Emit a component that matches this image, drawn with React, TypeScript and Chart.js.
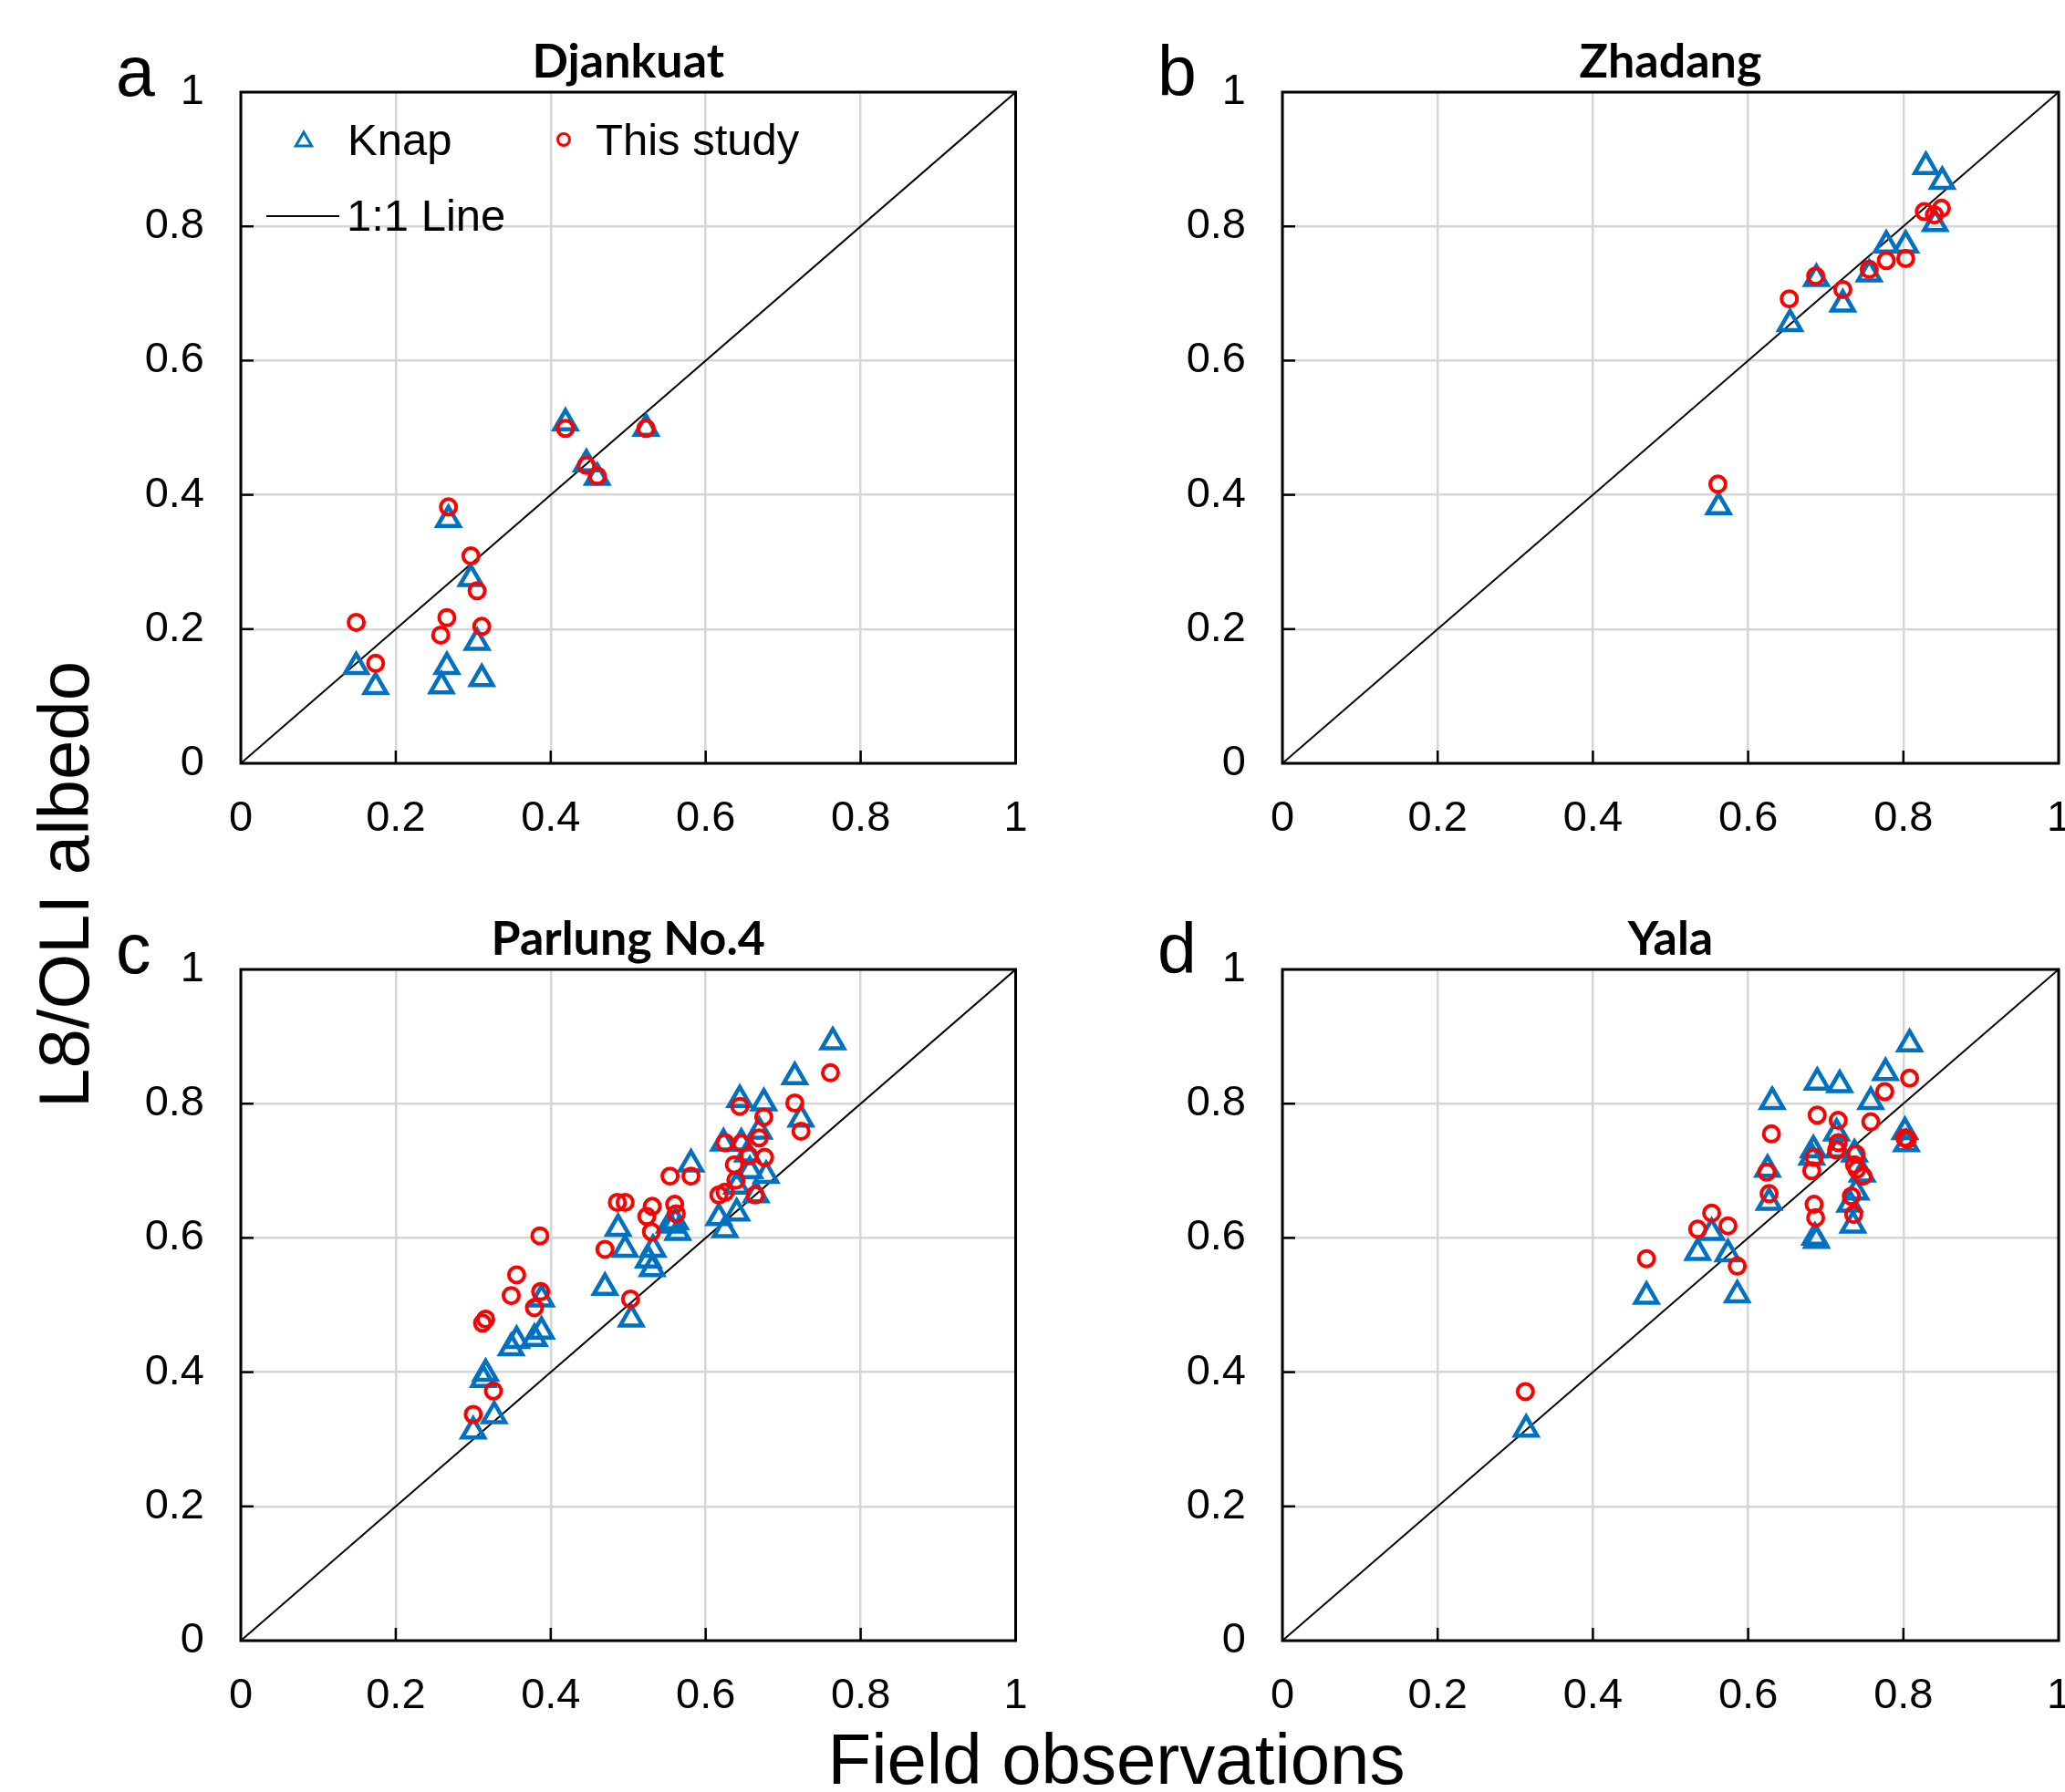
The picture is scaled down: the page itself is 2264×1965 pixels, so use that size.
import React, { useEffect, useRef } from "react";
import { Chart, registerables } from "chart.js";

Chart.register(...registerables);

// ---------- data ----------
const axisTicks = [0, 0.2, 0.4, 0.6, 0.8, 1];
const oneToOneX = [0, 1];
const oneToOneY = [0, 1];

const djankuatKnapX = [0.149, 0.174, 0.259, 0.266, 0.311, 0.305, 0.297, 0.268, 0.419, 0.446, 0.46, 0.523];
const djankuatKnapY = [0.144, 0.114, 0.115, 0.144, 0.126, 0.18, 0.275, 0.363, 0.507, 0.446, 0.426, 0.499];
const djankuatStudyX = [0.149, 0.174, 0.258, 0.266, 0.311, 0.305, 0.297, 0.268, 0.419, 0.446, 0.46, 0.523];
const djankuatStudyY = [0.21, 0.149, 0.191, 0.217, 0.204, 0.257, 0.309, 0.382, 0.499, 0.444, 0.428, 0.499];

const zhadangKnapX = [0.562, 0.654, 0.688, 0.722, 0.756, 0.778, 0.803, 0.829, 0.85, 0.841];
const zhadangKnapY = [0.382, 0.655, 0.722, 0.684, 0.729, 0.772, 0.772, 0.889, 0.867, 0.804];
const zhadangStudyX = [0.561, 0.653, 0.687, 0.722, 0.756, 0.778, 0.803, 0.827, 0.84, 0.849];
const zhadangStudyY = [0.416, 0.692, 0.726, 0.706, 0.736, 0.749, 0.752, 0.822, 0.817, 0.827];

const parlungKnapX = [0.3, 0.327, 0.313, 0.316, 0.349, 0.356, 0.379, 0.388, 0.388, 0.47, 0.504, 0.487, 0.496, 0.526, 0.531, 0.532, 0.553, 0.561, 0.564, 0.581, 0.617, 0.625, 0.64, 0.623, 0.644, 0.646, 0.654, 0.64, 0.657, 0.665, 0.669, 0.678, 0.675, 0.715, 0.723, 0.764];
const parlungKnapY = [0.312, 0.335, 0.389, 0.398, 0.436, 0.447, 0.45, 0.461, 0.509, 0.526, 0.479, 0.614, 0.583, 0.567, 0.554, 0.583, 0.619, 0.624, 0.608, 0.71, 0.63, 0.612, 0.637, 0.741, 0.806, 0.741, 0.725, 0.677, 0.7, 0.664, 0.759, 0.693, 0.801, 0.84, 0.777, 0.892];
const parlungStudyX = [0.3, 0.326, 0.312, 0.316, 0.349, 0.356, 0.379, 0.387, 0.386, 0.47, 0.503, 0.486, 0.496, 0.524, 0.531, 0.53, 0.56, 0.562, 0.554, 0.581, 0.617, 0.625, 0.625, 0.644, 0.637, 0.639, 0.646, 0.656, 0.669, 0.675, 0.676, 0.664, 0.715, 0.723, 0.761];
const parlungStudyY = [0.337, 0.372, 0.473, 0.479, 0.514, 0.545, 0.496, 0.52, 0.603, 0.583, 0.509, 0.653, 0.653, 0.632, 0.647, 0.609, 0.65, 0.636, 0.692, 0.692, 0.664, 0.668, 0.742, 0.796, 0.709, 0.686, 0.741, 0.722, 0.749, 0.78, 0.72, 0.664, 0.801, 0.759, 0.846];

const yalaKnapX = [0.314, 0.469, 0.586, 0.535, 0.553, 0.574, 0.631, 0.625, 0.627, 0.689, 0.718, 0.684, 0.682, 0.686, 0.688, 0.714, 0.716, 0.737, 0.747, 0.739, 0.731, 0.735, 0.758, 0.777, 0.802, 0.804, 0.808];
const yalaKnapY = [0.315, 0.513, 0.515, 0.578, 0.608, 0.576, 0.803, 0.702, 0.653, 0.832, 0.828, 0.731, 0.72, 0.601, 0.596, 0.756, 0.731, 0.725, 0.695, 0.668, 0.65, 0.619, 0.803, 0.846, 0.758, 0.74, 0.889];
const yalaStudyX = [0.313, 0.469, 0.535, 0.553, 0.574, 0.586, 0.63, 0.624, 0.627, 0.689, 0.685, 0.682, 0.685, 0.687, 0.716, 0.716, 0.714, 0.739, 0.737, 0.74, 0.748, 0.733, 0.736, 0.758, 0.776, 0.802, 0.805, 0.808];
const yalaStudyY = [0.371, 0.569, 0.613, 0.637, 0.618, 0.558, 0.755, 0.698, 0.666, 0.783, 0.72, 0.7, 0.65, 0.63, 0.775, 0.742, 0.731, 0.725, 0.709, 0.702, 0.692, 0.662, 0.635, 0.773, 0.818, 0.749, 0.747, 0.838];

// ---------- styling ----------
const KNAP_COLOR = "#0070C0";
const STUDY_COLOR = "#FF0000";
const GRID_COLOR = "#D6D6D6";
const TICK_FONT = '"Liberation Sans", Arial, sans-serif';

type Area = { left: number; top: number; right: number; bottom: number };
type PanelDef = {
  letter: string;
  title: string;
  knapX: number[];
  knapY: number[];
  studyX: number[];
  studyY: number[];
  left: number;
  top: number;
  width: number;
  height: number;
  area: Area;
  legend: boolean;
};

const PANELS: PanelDef[] = [
  { letter: "a", title: "Djankuat", knapX: djankuatKnapX, knapY: djankuatKnapY, studyX: djankuatStudyX, studyY: djankuatStudyY,
    left: 0, top: 0, width: 1132, height: 982, area: { left: 264, top: 101, right: 1116, bottom: 837 }, legend: true },
  { letter: "b", title: "Zhadang", knapX: zhadangKnapX, knapY: zhadangKnapY, studyX: zhadangStudyX, studyY: zhadangStudyY,
    left: 1132, top: 0, width: 1152, height: 982, area: { left: 274, top: 101, right: 1125, bottom: 837 }, legend: false },
  { letter: "c", title: "Parlung No.4", knapX: parlungKnapX, knapY: parlungKnapY, studyX: parlungStudyX, studyY: parlungStudyY,
    left: 0, top: 982, width: 1132, height: 983, area: { left: 264, top: 81, right: 1116, bottom: 817 }, legend: false },
  { letter: "d", title: "Yala", knapX: yalaKnapX, knapY: yalaKnapY, studyX: yalaStudyX, studyY: yalaStudyY,
    left: 1132, top: 982, width: 1152, height: 983, area: { left: 274, top: 81, right: 1125, bottom: 817 }, legend: false },
];

const toPoints = (xs: number[], ys: number[]) => xs.map((x, i) => ({ x, y: ys[i] }));

function drawTriangle(ctx: CanvasRenderingContext2D, x: number, y: number, r: number) {
  ctx.beginPath();
  let rad = 0;
  ctx.moveTo(x + Math.sin(rad) * r, y - Math.cos(rad) * r);
  rad += (2 * Math.PI) / 3;
  ctx.lineTo(x + Math.sin(rad) * r, y - Math.cos(rad) * r);
  rad += (2 * Math.PI) / 3;
  ctx.lineTo(x + Math.sin(rad) * r, y - Math.cos(rad) * r);
  ctx.closePath();
  ctx.stroke();
}

const decorPlugin = {
  id: "decor",
  afterDraw(chart: any, _args: any, opts: any) {
    const { ctx, chartArea } = chart;
    const { left, top, right, bottom } = chartArea;
    const xs = chart.scales.x;
    const ys = chart.scales.y;
    ctx.save();
    // inner tick marks
    ctx.strokeStyle = "#000";
    ctx.lineWidth = 2.5;
    for (const v of axisTicks.slice(1, -1)) {
      const px = xs.getPixelForValue(v);
      ctx.beginPath();
      ctx.moveTo(px, bottom);
      ctx.lineTo(px, bottom - 14);
      ctx.stroke();
      const py = ys.getPixelForValue(v);
      ctx.beginPath();
      ctx.moveTo(left, py);
      ctx.lineTo(left + 14, py);
      ctx.stroke();
    }
    // frame
    ctx.lineWidth = 3;
    ctx.strokeRect(left, top, right - left, bottom - top);
    // title
    ctx.fillStyle = "#000";
    ctx.font = 'bold 52px Lato, "Open Sans", sans-serif';
    ctx.textAlign = "center";
    ctx.textBaseline = "alphabetic";
    ctx.fillText(opts.title, (left + right) / 2, top - 16);
    // panel letter
    ctx.font = '77px "Liberation Sans", Arial, sans-serif';
    ctx.textAlign = "left";
    ctx.fillText(opts.letter, left - 137, top + 4);
    // legend
    if (opts.legend) {
      ctx.font = '49px "Liberation Sans", Arial, sans-serif';
      ctx.textAlign = "left";
      ctx.strokeStyle = KNAP_COLOR;
      ctx.lineWidth = 3;
      drawTriangle(ctx, left + 69, top + 54, 10);
      ctx.fillStyle = "#000";
      ctx.fillText("Knap", left + 117, top + 69);
      ctx.strokeStyle = STUDY_COLOR;
      ctx.beginPath();
      ctx.arc(left + 354, top + 52, 6.5, 0, Math.PI * 2);
      ctx.stroke();
      ctx.fillText("This study", left + 389, top + 69);
      ctx.strokeStyle = "#000";
      ctx.lineWidth = 2;
      ctx.beginPath();
      ctx.moveTo(left + 28, top + 136);
      ctx.lineTo(left + 108, top + 136);
      ctx.stroke();
      ctx.fillText("1:1 Line", left + 116, top + 152);
    }
    ctx.restore();
  },
};

function Panel({ def }: { def: PanelDef }) {
  const ref = useRef<HTMLCanvasElement | null>(null);
  useEffect(() => {
    if (!ref.current) return;
    const { area, width, height } = def;
    const setTicks = (s: any) => {
      s.ticks = axisTicks.map((v) => ({ value: v }));
    };
    const fmt = (v: any) => String(Number(Number(v).toFixed(1)));
    const chart = new Chart(ref.current, {
      type: "scatter",
      data: {
        datasets: [
          {
            label: "This study",
            data: toPoints(def.studyX, def.studyY),
            pointStyle: "circle",
            pointRadius: 8.5,
            pointBorderWidth: 4,
            borderColor: STUDY_COLOR,
            backgroundColor: "rgba(0,0,0,0)",
            order: 0,
          },
          {
            label: "Knap",
            data: toPoints(def.knapX, def.knapY),
            pointStyle: "triangle",
            pointRadius: 14,
            pointBorderWidth: 4.5,
            borderColor: KNAP_COLOR,
            backgroundColor: "rgba(0,0,0,0)",
            order: 1,
          },
          {
            label: "1:1 Line",
            data: toPoints(oneToOneX, oneToOneY),
            showLine: true,
            borderColor: "#000",
            borderWidth: 2,
            pointRadius: 0,
            order: 2,
          },
        ],
      } as any,
      options: {
        responsive: false,
        animation: false,
        events: [],
        layout: { padding: { top: area.top, right: width - area.right, left: 0, bottom: 0 } },
        plugins: {
          legend: { display: false },
          title: { display: false },
          tooltip: { enabled: false },
          decor: { title: def.title, letter: def.letter, legend: def.legend },
        } as any,
        scales: {
          x: {
            type: "linear",
            position: "bottom",
            min: 0,
            max: 1,
            afterBuildTicks: setTicks,
            afterFit: (s: any) => {
              s.height = height - area.bottom;
              s.paddingLeft = 0;
              s.paddingRight = 0;
            },
            grid: { color: GRID_COLOR, lineWidth: 2.5, drawTicks: false },
            border: { display: false },
            ticks: {
              padding: 33,
              color: "#000",
              font: { family: TICK_FONT, size: 47 },
              maxRotation: 0,
              autoSkip: false,
              callback: fmt,
            },
          },
          y: {
            type: "linear",
            position: "left",
            min: 0,
            max: 1,
            afterBuildTicks: setTicks,
            afterFit: (s: any) => {
              s.width = area.left;
              s.paddingTop = 0;
              s.paddingBottom = 0;
            },
            grid: { color: GRID_COLOR, lineWidth: 2.5, drawTicks: false },
            border: { display: false },
            ticks: {
              padding: 40,
              color: "#000",
              font: { family: TICK_FONT, size: 47 },
              autoSkip: false,
              callback: fmt,
            },
          },
        },
      } as any,
      plugins: [decorPlugin],
    });
    return () => chart.destroy();
  }, [def]);
  return (
    <canvas
      ref={ref}
      width={def.width}
      height={def.height}
      style={{ position: "absolute", left: def.left, top: def.top, width: def.width, height: def.height }}
    />
  );
}

export default function App() {
  return (
    <div
      style={{
        position: "absolute",
        left: 0,
        top: 0,
        width: 2264,
        height: 1965,
        background: "#fff",
        overflow: "hidden",
      }}
    >
      {PANELS.map((p) => (
        <Panel key={p.letter} def={p} />
      ))}
      <div
        style={{
          position: "absolute",
          left: 70,
          top: 970,
          transform: "translate(-50%, -50%) rotate(-90deg)",
          fontFamily: '"Liberation Sans", Arial, sans-serif',
          fontSize: 78,
          lineHeight: 1,
          whiteSpace: "nowrap",
          color: "#000",
        }}
      >
        L8/OLI albedo
      </div>
      <div
        style={{
          position: "absolute",
          left: 1224,
          top: 1890,
          transform: "translateX(-50%)",
          fontFamily: '"Liberation Sans", Arial, sans-serif',
          fontSize: 78,
          lineHeight: 1,
          whiteSpace: "nowrap",
          color: "#000",
        }}
      >
        Field observations
      </div>
    </div>
  );
}
